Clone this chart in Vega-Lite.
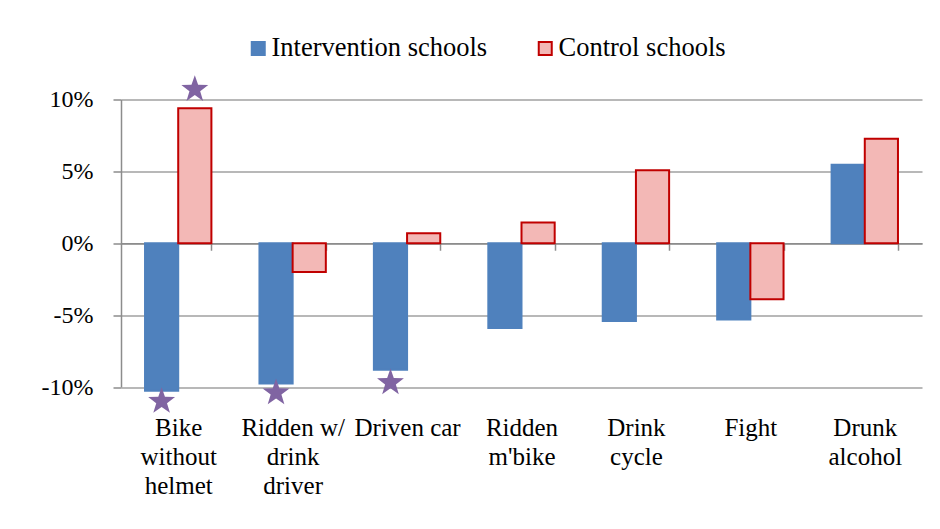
{
  "$schema": "https://vega.github.io/schema/vega-lite/v6.json",
  "width": 801,
  "height": 287.5,
  "autosize": "none",
  "padding": {"left": 121, "top": 99.5, "right": 18, "bottom": 142},
  "background": "white",
  "config": {
    "view": {"stroke": null},
    "font": "Liberation Serif",
    "axis": {"labelFont": "Liberation Serif", "labelColor": "#000000"}
  },
  "datasets": {
    "bars": [
      {"category": "Bike without helmet", "group": "Intervention schools", "value": -10.26},
      {"category": "Bike without helmet", "group": "Control schools", "value": 9.4},
      {"category": "Ridden w/ drink driver", "group": "Intervention schools", "value": -9.75},
      {"category": "Ridden w/ drink driver", "group": "Control schools", "value": -2.0},
      {"category": "Driven car", "group": "Intervention schools", "value": -8.8},
      {"category": "Driven car", "group": "Control schools", "value": 0.7},
      {"category": "Ridden m'bike", "group": "Intervention schools", "value": -5.9},
      {"category": "Ridden m'bike", "group": "Control schools", "value": 1.45},
      {"category": "Drink cycle", "group": "Intervention schools", "value": -5.4},
      {"category": "Drink cycle", "group": "Control schools", "value": 5.07},
      {"category": "Fight", "group": "Intervention schools", "value": -5.3},
      {"category": "Fight", "group": "Control schools", "value": -3.9},
      {"category": "Drunk alcohol", "group": "Intervention schools", "value": 5.46},
      {"category": "Drunk alcohol", "group": "Control schools", "value": 7.27}
    ],
    "stars": [
      {"category": "Bike without helmet", "group": "Intervention schools", "value": -11.0},
      {"category": "Bike without helmet", "group": "Control schools", "value": 10.7},
      {"category": "Ridden w/ drink driver", "group": "Intervention schools", "value": -10.4},
      {"category": "Driven car", "group": "Intervention schools", "value": -9.7}
    ]
  },
  "encoding": {
    "x": {
      "field": "category", "type": "nominal",
      "sort": ["Bike without helmet", "Ridden w/ drink driver", "Driven car", "Ridden m'bike", "Drink cycle", "Fight", "Drunk alcohol"],
      "scale": {"paddingInner": 0.42, "paddingOuter": 0.21},
      "axis": {
        "orient": "bottom", "offset": -143.75, "title": null, "grid": false,
        "domain": true, "domainColor": "#8C8C8C", "domainWidth": 1.5,
        "ticks": true, "tickBand": "extent", "tickColor": "#8C8C8C", "tickWidth": 1.5, "tickSize": 7,
        "labelAngle": 0, "labelPadding": 165, "labelLineHeight": 29, "labelBaseline": "top",
        "labelFontSize": 25, "labelLimit": 300, "labelOverlap": false,
        "labelExpr": "datum.label == 'Bike without helmet' ? ['Bike','without','helmet'] : datum.label == 'Ridden w/ drink driver' ? ['Ridden w/','drink','driver'] : datum.label == 'Driven car' ? 'Driven car' : split(datum.label, ' ')"
      }
    },
    "xOffset": {
      "field": "group", "type": "nominal",
      "sort": ["Intervention schools", "Control schools"],
      "scale": {"paddingInner": 0, "paddingOuter": 0}
    },
    "y": {
      "field": "value", "type": "quantitative",
      "scale": {"domain": [-10, 10], "nice": false},
      "axis": {
        "title": null, "values": [-10, -5, 0, 5, 10],
        "labelExpr": "datum.value + '%'",
        "labelFontSize": 24,
        "grid": true, "gridColor": "#A0A0A0", "gridWidth": 1.5,
        "domain": true, "domainColor": "#8C8C8C", "domainWidth": 1.5,
        "ticks": true, "tickColor": "#8C8C8C", "tickWidth": 1.5, "tickSize": 8,
        "labelPadding": 20
      }
    }
  },
  "layer": [
    {
      "data": {"name": "bars"},
      "mark": {"type": "bar", "strokeWidth": 2},
      "encoding": {
        "fill": {
          "field": "group", "type": "nominal",
          "scale": {"domain": ["Intervention schools", "Control schools"], "range": ["#4F81BD", "#F3B8B6"]},
          "legend": {
            "orient": "none", "legendX": 124, "legendY": -64.5, "direction": "horizontal",
            "title": null, "labelFont": "Liberation Serif", "labelFontSize": 26.5, "labelColor": "#000000",
            "labelLimit": 400,
            "symbolType": "square", "symbolSize": 169, "symbolStrokeWidth": 2,
            "columnPadding": 44, "labelOffset": 0, "padding": 0
          }
        },
        "stroke": {
          "field": "group", "type": "nominal",
          "scale": {"domain": ["Intervention schools", "Control schools"], "range": ["#4F81BD", "#C00000"]},
          "legend": {
            "orient": "none", "legendX": 124, "legendY": -64.5, "direction": "horizontal",
            "title": null, "labelFont": "Liberation Serif", "labelFontSize": 26.5, "labelColor": "#000000",
            "labelLimit": 400,
            "symbolType": "square", "symbolSize": 169, "symbolStrokeWidth": 2,
            "columnPadding": 44, "labelOffset": 0, "padding": 0
          }
        }
      }
    },
    {
      "data": {"name": "stars"},
      "mark": {
        "type": "point", "filled": true, "color": "#8064A2", "opacity": 1, "size": 800, "strokeWidth": 0,
        "shape": "M0,-1L0.235,-0.324L0.951,-0.309L0.38,0.124L0.588,0.809L0,0.4L-0.588,0.809L-0.38,0.124L-0.951,-0.309L-0.235,-0.324Z"
      }
    }
  ]
}
